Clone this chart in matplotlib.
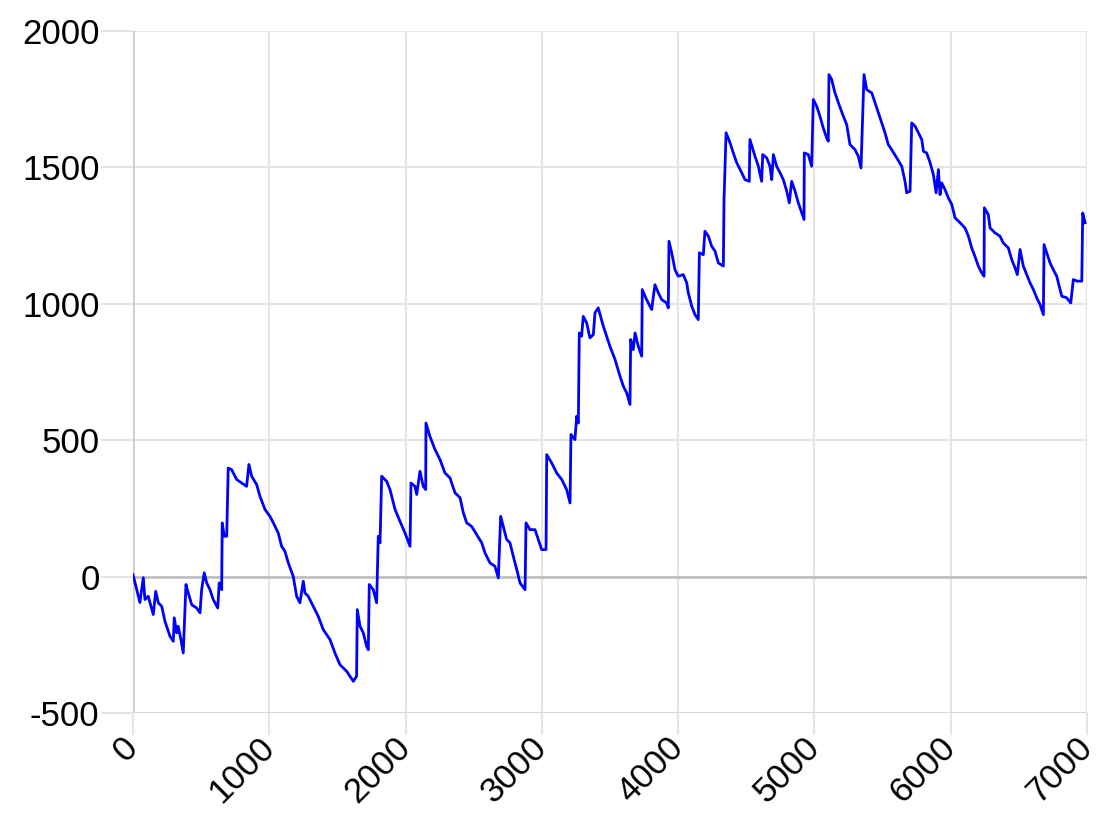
import numpy as np
import matplotlib
matplotlib.use('Agg')
import matplotlib.pyplot as plt

#---------------------------------- DATA --------------------------------------
# values (step index, cumulative value)
xs = [0, 15, 51, 76, 88, 112, 149, 167, 186, 211, 235, 272, 296, 303, 321, 332, 352, 369,
      389, 406, 431, 467, 492, 504, 523, 541, 565, 589, 622, 633, 651, 655, 670, 688, 699,
      724, 761, 798, 834, 851, 871, 908, 932, 969, 1005, 1030, 1066, 1091, 1115, 1140,
      1176, 1201, 1225, 1250, 1262, 1286, 1323, 1360, 1396, 1446, 1482, 1519, 1568, 1617,
      1641, 1646, 1666, 1690, 1715, 1727, 1734, 1763, 1788, 1800, 1813, 1825, 1862, 1886,
      1923, 1959, 1996, 2033, 2040, 2069, 2082, 2106, 2130, 2148, 2150, 2179, 2216, 2253,
      2289, 2326, 2363, 2400, 2424, 2449, 2485, 2522, 2559, 2583, 2620, 2656, 2681, 2698,
      2717, 2742, 2766, 2791, 2816, 2840, 2877, 2884, 2913, 2950, 2974, 2999, 3031, 3036,
      3072, 3109, 3146, 3182, 3207, 3214, 3243, 3256, 3268, 3275, 3292, 3304, 3329, 3353,
      3378, 3390, 3414, 3451, 3500, 3537, 3574, 3598, 3623, 3647, 3652, 3671, 3684, 3708,
      3733, 3737, 3769, 3806, 3830, 3855, 3880, 3916, 3928, 3933, 3953, 3977, 4001, 4038,
      4063, 4075, 4100, 4124, 4148, 4156, 4185, 4197, 4222, 4246, 4271, 4295, 4332, 4337,
      4352, 4381, 4405, 4430, 4467, 4491, 4522, 4527, 4564, 4589, 4613, 4621, 4650, 4674,
      4687, 4699, 4723, 4748, 4772, 4797, 4816, 4833, 4858, 4882, 4907, 4924, 4926, 4955,
      4980, 4992, 5017, 5041, 5065, 5090, 5102, 5107, 5127, 5151, 5176, 5212, 5237, 5261,
      5298, 5322, 5342, 5364, 5384, 5421, 5445, 5469, 5494, 5518, 5542, 5567, 5604, 5641,
      5665, 5677, 5702, 5714, 5739, 5763, 5788, 5800, 5824, 5849, 5873, 5893, 5910, 5922,
      5934, 5958, 5983, 6008, 6032, 6069, 6105, 6130, 6154, 6178, 6203, 6228, 6245, 6247,
      6276, 6289, 6325, 6362, 6386, 6423, 6448, 6472, 6489, 6509, 6533, 6558, 6582, 6607,
      6631, 6656, 6680, 6685, 6705, 6729, 6753, 6778, 6815, 6851, 6881, 6900, 6927, 6962,
      6969, 6986]
ys = [7, -22, -95, -4, -84, -72, -139, -54, -96, -109, -164, -219, -237, -151, -206, -182,
      -231, -280, -29, -60, -103, -115, -133, -48, 14, -23, -48, -84, -115, -23, -48, 197,
      148, 148, 398, 392, 356, 343, 331, 411, 368, 337, 294, 246, 221, 197, 160, 111, 93,
      50, 1, -72, -96, -17, -60, -72, -109, -146, -194, -231, -280, -323, -347, -384, -365,
      -121, -182, -206, -256, -268, -29, -48, -96, 148, 124, 368, 349, 319, 246, 203, 160,
      111, 343, 331, 301, 386, 331, 319, 563, 514, 466, 429, 380, 362, 307, 289, 234, 197,
      184, 154, 124, 87, 50, 38, -5, 221, 184, 136, 124, 74, 26, -23, -48, 197, 172, 172,
      136, 99, 99, 447, 417, 380, 356, 319, 270, 521, 502, 588, 563, 893, 881, 954, 930,
      875, 887, 967, 985, 918, 844, 796, 734, 698, 673, 631, 869, 832, 893, 844, 808, 1052,
      1015, 979, 1070, 1040, 1015, 1003, 985, 1229, 1187, 1125, 1101, 1107, 1077, 1040,
      991, 960, 942, 1187, 1180, 1266, 1248, 1211, 1193, 1150, 1138, 1382, 1627, 1590,
      1553, 1517, 1480, 1455, 1449, 1602, 1541, 1504, 1449, 1547, 1535, 1504, 1455, 1547,
      1504, 1480, 1455, 1413, 1370, 1449, 1413, 1370, 1333, 1309, 1553, 1547, 1504, 1749,
      1724, 1687, 1645, 1608, 1596, 1840, 1822, 1773, 1737, 1688, 1657, 1584, 1565, 1541,
      1498, 1840, 1785, 1773, 1737, 1700, 1663, 1627, 1584, 1565, 1535, 1504, 1449, 1407,
      1413, 1663, 1651, 1627, 1602, 1559, 1553, 1517, 1474, 1407, 1492, 1400, 1443, 1419,
      1388, 1364, 1315, 1297, 1278, 1248, 1205, 1174, 1138, 1113, 1101, 1352, 1327, 1278,
      1260, 1248, 1223, 1205, 1162, 1132, 1107, 1199, 1138, 1107, 1077, 1052, 1022, 997,
      960, 1217, 1187, 1150, 1125, 1101, 1028, 1022, 1003, 1089, 1083, 1083, 1333, 1297]
xticks = [0, 1000, 2000, 3000, 4000, 5000, 6000, 7000]
yticks = [-500, 0, 500, 1000, 1500, 2000]

#---------------------------------- PLOT --------------------------------------
plt.rcParams['font.family'] = ['Liberation Sans', 'DejaVu Sans']
plt.rcParams['axes.unicode_minus'] = False

gridc = '#e5e5e5'
fig = plt.figure(figsize=(11.07, 8.35), dpi=100)
ax = fig.add_axes([0.1201, 0.1461, 0.8618, 0.8168])
ax.plot(xs, ys, color='#0000ff', lw=2.0, zorder=3)

ax.set_xlim(0, 7000)
ax.set_ylim(-500, 2000)
ax.set_xticks(xticks)
ax.set_yticks(yticks)
ax.set_yticklabels([str(t) for t in yticks])
ax.set_xticklabels([str(t) for t in xticks], rotation=45, ha='right',
                   va='center', rotation_mode='anchor')
ax.grid(True, color=gridc, lw=1.5, zorder=0)
ax.set_axisbelow(True)
ax.axhline(0, color='#bdbdbd', lw=1.8, zorder=2)
ax.axvline(0, color='#cccccc', lw=1.8, zorder=2)
ax.axhline(-500, color='#d4d4d4', lw=1.8, zorder=2)
for s in ax.spines.values():
    s.set_visible(False)
ax.tick_params(axis='y', length=23, width=1.5, color=gridc, pad=1, labelsize=25)
ax.tick_params(axis='x', length=16, width=1.5, color=gridc, pad=5, labelsize=25)

fig.savefig('out.png', dpi=100)
